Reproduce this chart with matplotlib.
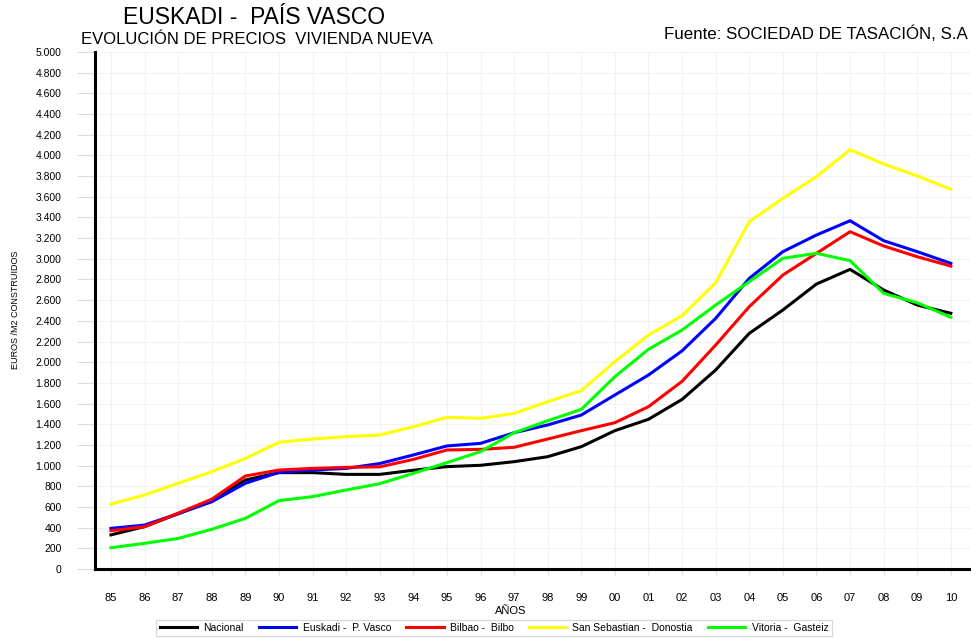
import matplotlib.pyplot as plt
import numpy as np

plt.rcParams['font.family'] = ['Liberation Sans', 'DejaVu Sans']

# years shown on the x axis
years = ["85", "86", "87", "88", "89", "90", "91", "92", "93", "94", "95", "96", "97",
         "98", "99", "00", "01", "02", "03", "04", "05", "06", "07", "08", "09", "10"]

# euros / m2
nacional = [330, 410, 535, 665, 860, 932, 932, 915, 915, 955, 990, 1003, 1038,
            1086, 1183, 1338, 1448, 1640, 1925, 2279, 2505, 2756, 2898, 2698, 2553, 2473]
euskadi = [393, 425, 535, 650, 829, 935, 957, 973, 1020, 1103, 1190, 1215, 1318,
           1393, 1489, 1683, 1876, 2110, 2424, 2811, 3069, 3230, 3368, 3175, 3069, 2956]
bilbao = [371, 409, 540, 675, 899, 957, 973, 983, 988, 1060, 1151, 1157, 1177,
          1257, 1338, 1415, 1570, 1815, 2166, 2537, 2843, 3053, 3262, 3124, 3020, 2930]
donostia = [628, 716, 829, 941, 1070, 1225, 1257, 1280, 1296, 1376, 1467, 1457, 1505,
            1618, 1725, 2005, 2263, 2450, 2769, 3359, 3585, 3794, 4055, 3917, 3801, 3672]
gasteiz = [206, 248, 296, 384, 490, 661, 700, 764, 825, 925, 1029, 1135, 1318,
           1434, 1544, 1860, 2125, 2311, 2553, 2779, 3005, 3053, 2982, 2666, 2575, 2434]

series_names = ["Nacional", "Euskadi -  P. Vasco", "Bilbao -  Bilbo",
                "San Sebastian -  Donostia", "Vitoria -  Gasteiz"]
series_colors = ["#000000", "#0000ff", "#ff0000", "#ffff00", "#00ff00"]

fig = plt.figure(figsize=(9.71, 6.39), dpi=100)
ax = fig.add_axes([95 / 971, 1 - 569 / 639, 1 - 95 / 971, (569 - 52) / 639])

x = np.arange(len(years))
for vals, name, col in zip([nacional, euskadi, bilbao, donostia, gasteiz], series_names, series_colors):
    ax.plot(x, vals, color=col, lw=2.2, label=name, solid_joinstyle='round')

ax.set_ylim(0, 5000)
ax.set_xlim(-0.476, 25.6)
ax.set_yticks(np.arange(0, 5001, 200))
ax.set_yticklabels(["{:,}".format(v).replace(",", ".") for v in range(0, 5001, 200)], fontsize=7.5)
ax.set_xticks(x)
ax.set_xticklabels(years, fontsize=8)
ax.tick_params(axis='y', length=13, color='#dddddd', pad=11)
ax.tick_params(axis='x', length=4, color='#dddddd', pad=13)
ax.grid(color='#f2f2f2', lw=0.8)
ax.set_axisbelow(True)

for s in ['top', 'right']:
    ax.spines[s].set_visible(False)
ax.spines['left'].set_linewidth(2.2)
ax.spines['bottom'].set_linewidth(2.2)

fig.text(254 / 971, 1 - 18 / 639, "EUSKADI -  PAÍS VASCO", fontsize=16.5, ha='center', va='center')
fig.text(257 / 971, 1 - 40 / 639, "EVOLUCIÓN DE PRECIOS  VIVIENDA NUEVA", fontsize=12, ha='center', va='center')
fig.text(968 / 971, 1 - 34 / 639, "Fuente: SOCIEDAD DE TASACIÓN, S.A", fontsize=12.2, ha='right', va='center')
fig.text(511 / 971, 1 - 611 / 639, "AÑOS", fontsize=8, ha='center', va='center')
fig.text(15 / 971, 1 - 310 / 639, "EUROS /M2 CONSTRUIDOS", fontsize=6.5, rotation=90, ha='center', va='center')

leg = fig.legend(loc='center', bbox_to_anchor=(494 / 971, 1 - 628 / 639), ncol=5, fontsize=7.5,
                 frameon=True, fancybox=False, handlelength=3.6, columnspacing=1.45,
                 borderpad=0.3, handletextpad=0.6)
leg.get_frame().set_edgecolor('#cccccc')
leg.get_frame().set_linewidth(0.8)

plt.savefig('out.png', dpi=100)
plt.close()
